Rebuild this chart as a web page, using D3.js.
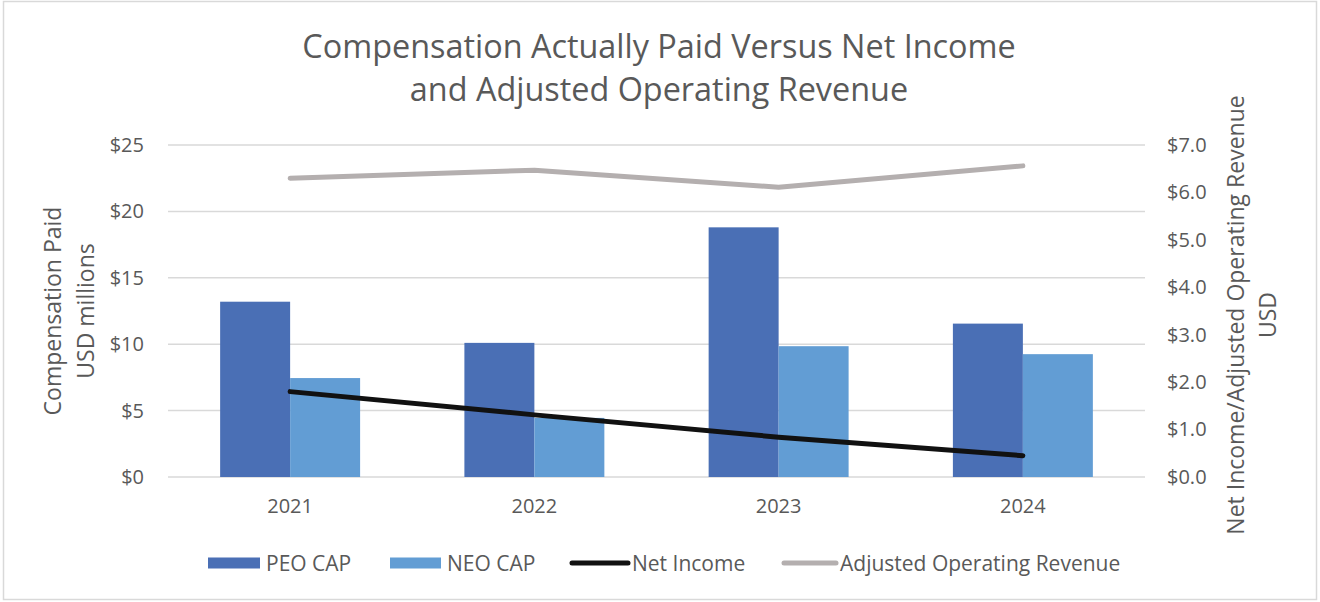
<!DOCTYPE html>
<html>
<head>
<meta charset="utf-8">
<script src="https://cdn.jsdelivr.net/npm/d3@7"></script>
<style>
  body { margin: 0; background: #fff; }
  text { font-family: "Open Sans", "Noto Sans", sans-serif; fill: #595959; }
</style>
</head>
<body>
<div class="chart"></div>
<script>
var years = ["2021", "2022", "2023", "2024"];
var peoCap = [13.2, 10.1, 18.8, 11.55];
var neoCap = [7.45, 4.45, 9.85, 9.25];
var netIncome = [1.80, 1.31, 0.84, 0.45];
var adjRevenue = [6.30, 6.47, 6.11, 6.56];
var leftTicks = [0, 5, 10, 15, 20, 25];
var rightTicks = [0, 1, 2, 3, 4, 5, 6, 7];

var svgWidth = 1320;
var svgHeight = 602;
var margin = { top: 145, right: 175, bottom: 125, left: 168 };
var width = svgWidth - margin.left - margin.right;
var height = svgHeight - margin.top - margin.bottom;

var svg = d3.select(".chart")
  .append("svg")
  .attr("width", svgWidth)
  .attr("height", svgHeight);

// outer frame
svg.append("rect")
  .attr("x", 3.5).attr("y", 1.5)
  .attr("width", svgWidth - 7).attr("height", svgHeight - 4)
  .attr("fill", "#fff")
  .attr("stroke", "#d9d9d9")
  .attr("stroke-width", 1.5);

var chartGroup = svg.append("g")
  .attr("transform", `translate(${margin.left}, ${margin.top})`);

// scales
var xBand = d3.scaleBand().domain(years).range([0, width]).padding(0);
var xInner = d3.scaleBand().domain(["PEO", "NEO"]).range([0, xBand.bandwidth()]).paddingInner(0).paddingOuter(0.745);
var yLeft = d3.scaleLinear().domain([0, 25]).range([height, 0]);
var yRight = d3.scaleLinear().domain([0, 7]).range([height, 0]);

// gridlines
chartGroup.append("g")
  .selectAll("line")
  .data(leftTicks)
  .enter()
  .append("line")
  .attr("x1", 0).attr("x2", width)
  .attr("y1", d => yLeft(d)).attr("y2", d => yLeft(d))
  .attr("stroke", "#d9d9d9")
  .attr("stroke-width", 1.5);

// left axis
var leftAxis = d3.axisLeft(yLeft).tickValues(leftTicks).tickSize(0).tickPadding(24).tickFormat(d => "$" + d);
chartGroup.append("g").call(leftAxis)
  .call(g => g.select(".domain").remove())
  .selectAll("text").style("font-size", "20px");

// right axis
var rightAxis = d3.axisRight(yRight).tickValues(rightTicks).tickSize(0).tickPadding(22).tickFormat(d => "$" + d.toFixed(1));
chartGroup.append("g")
  .attr("transform", `translate(${width}, 0)`)
  .call(rightAxis)
  .call(g => g.select(".domain").remove())
  .selectAll("text").style("font-size", "20px");

// bottom axis
var bottomAxis = d3.axisBottom(xBand).tickSize(0).tickPadding(22);
chartGroup.append("g")
  .attr("transform", `translate(0, ${height})`)
  .call(bottomAxis)
  .call(g => g.select(".domain").remove())
  .selectAll("text").style("font-size", "20px");

// bars
var barData = years.map((y, i) => ({ year: y, PEO: peoCap[i], NEO: neoCap[i] }));
var barColors = { PEO: "#4a6fb5", NEO: "#629dd4" };

chartGroup.append("g")
  .selectAll("g")
  .data(barData)
  .enter()
  .append("g")
  .attr("transform", d => `translate(${xBand(d.year)}, 0)`)
  .selectAll("rect")
  .data(d => ["PEO", "NEO"].map(k => ({ key: k, value: d[k] })))
  .enter()
  .append("rect")
  .attr("x", d => xInner(d.key))
  .attr("y", d => yLeft(d.value))
  .attr("width", xInner.bandwidth())
  .attr("height", d => height - yLeft(d.value))
  .attr("fill", d => barColors[d.key]);

// lines
var lineGen = d3.line()
  .x((d, i) => xBand(years[i]) + xBand.bandwidth() / 2)
  .y(d => yRight(d));

chartGroup.append("path")
  .datum(adjRevenue)
  .attr("d", lineGen)
  .attr("fill", "none")
  .attr("stroke", "#b4afaf")
  .attr("stroke-width", 5)
  .attr("stroke-linecap", "round")
  .attr("stroke-linejoin", "round");

chartGroup.append("path")
  .datum(netIncome)
  .attr("d", lineGen)
  .attr("fill", "none")
  .attr("stroke", "#111")
  .attr("stroke-width", 5)
  .attr("stroke-linecap", "round")
  .attr("stroke-linejoin", "round");

// title
svg.append("text")
  .attr("x", 659).attr("y", 58)
  .attr("text-anchor", "middle")
  .style("font-size", "32.4px")
  .text("Compensation Actually Paid Versus Net Income");
svg.append("text")
  .attr("x", 659).attr("y", 101)
  .attr("text-anchor", "middle")
  .style("font-size", "32.4px")
  .text("and Adjusted Operating Revenue");

// left axis title
var leftTitle = svg.append("text")
  .attr("transform", "translate(0, 311) rotate(-90)")
  .attr("text-anchor", "middle")
  .style("font-size", "23px");
leftTitle.append("tspan").attr("x", 0).attr("y", 61).text("Compensation Paid");
leftTitle.append("tspan").attr("x", 0).attr("y", 94).text("USD millions");

// right axis title
var rightTitle = svg.append("text")
  .attr("transform", "translate(0, 315) rotate(-90)")
  .attr("text-anchor", "middle")
  .style("font-size", "23px");
rightTitle.append("tspan").attr("x", 0).attr("y", 1244).text("Net Income/Adjusted Operating Revenue");
rightTitle.append("tspan").attr("x", 0).attr("y", 1276).text("USD");

// legend
var legendItems = [
  { label: "PEO CAP", type: "rect", color: "#4a6fb5", x: 208, w: 52, tx: 266 },
  { label: "NEO CAP", type: "rect", color: "#629dd4", x: 390, w: 51, tx: 447 },
  { label: "Net Income", type: "line", color: "#111", x: 572, w: 56, tx: 632 },
  { label: "Adjusted Operating Revenue", type: "line", color: "#b4afaf", x: 784, w: 52, tx: 840 }
];
var legend = svg.append("g").attr("transform", "translate(0, 563)");
legendItems.forEach(function(item) {
  if (item.type === "rect") {
    legend.append("rect")
      .attr("x", item.x).attr("y", -5.5)
      .attr("width", item.w).attr("height", 11)
      .attr("fill", item.color);
  } else {
    legend.append("line")
      .attr("x1", item.x).attr("x2", item.x + item.w)
      .attr("y1", 0).attr("y2", 0)
      .attr("stroke", item.color)
      .attr("stroke-width", 5)
      .attr("stroke-linecap", "round");
  }
  legend.append("text")
    .attr("x", item.tx).attr("y", 7.5)
    .style("font-size", "21px")
    .text(item.label);
});
</script>
</body>
</html>
